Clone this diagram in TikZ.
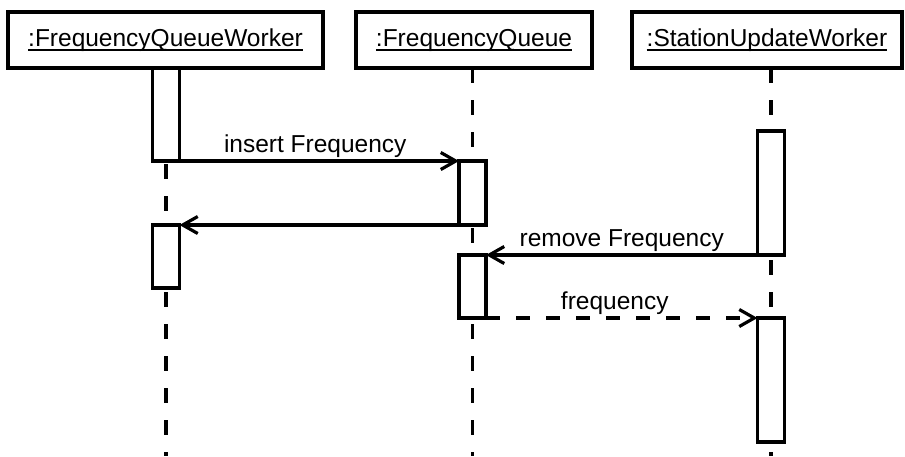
\documentclass[tikz,border=0pt]{standalone}
\usepackage{fontspec}
\setmainfont{Liberation Sans}
\usetikzlibrary{arrows.meta,backgrounds}
% underlined object name with a heavier rule
\newcommand\objname[1]{\setbox0\hbox{#1}\rlap{\rule[-4.5pt]{\wd0}{1.8pt}}\box0}
\begin{document}
\begin{tikzpicture}[x=1pt,y=-1pt,
  every node/.style={font=\fontsize{24.5}{29}\selectfont},
  head/.style={draw, line width=3.2pt, minimum height=56pt, inner sep=0pt, outer sep=0pt, anchor=north west},
  act/.style={draw, fill=white, line width=3.2pt, minimum width=27pt, inner sep=0pt, outer sep=0pt, anchor=north},
  life/.style={line width=3.2pt, dash pattern=on 15pt off 17pt},
  msg/.style={line width=3.2pt, -{Straight Barb[length=15pt,width=17pt,line width=3.2pt]}},
  reply/.style={msg, dash pattern=on 14pt off 16pt},
  lbl/.style={above, inner sep=2pt}]
\useasboundingbox (0,0) rectangle (905,456);
\coordinate (bottom) at (0,456);

% object heads
\node[head, minimum width=315pt] (hw) at (8,12) {\objname{:FrequencyQueueWorker}};
\node[head, minimum width=236pt] (hq) at (356,12) {\objname{:FrequencyQueue}};
\node[head, minimum width=270pt] (hs) at (632,12) {\objname{:StationUpdateWorker}};

% activation bars
\node[act, minimum height=93pt]  (w1) at (166,68)    {};
\node[act, minimum height=63pt]  (w2) at (166,225)   {};
\node[act, minimum height=64pt]  (q1) at (472.5,161) {};
\node[act, minimum height=63pt]  (q2) at (472.5,255) {};
\node[act, minimum height=124pt] (s1) at (771,131)   {};
\node[act, minimum height=124pt] (s2) at (771,318)   {};

% messages
\draw[msg] (w1.south east) -- node[lbl, xshift=-4pt] {insert Frequency} (q1.north west);
\draw[msg] (q1.south west) -- (w2.north east);
\draw[msg] (s1.south west) -- node[lbl] {remove Frequency} (q2.north east);
\draw[reply] (q2.south east) -- node[lbl, xshift=-7pt] {frequency} (s2.north west);

% lifelines
\begin{scope}[on background layer]
  \draw[life] (w1.north) -- (w1.north |- bottom);
  \draw[life] (q1.north |- hq.south) -- (q1.north |- bottom);
  \draw[life] (s1.north |- hs.south) -- (s1.north |- bottom);
\end{scope}
\end{tikzpicture}
\end{document}
